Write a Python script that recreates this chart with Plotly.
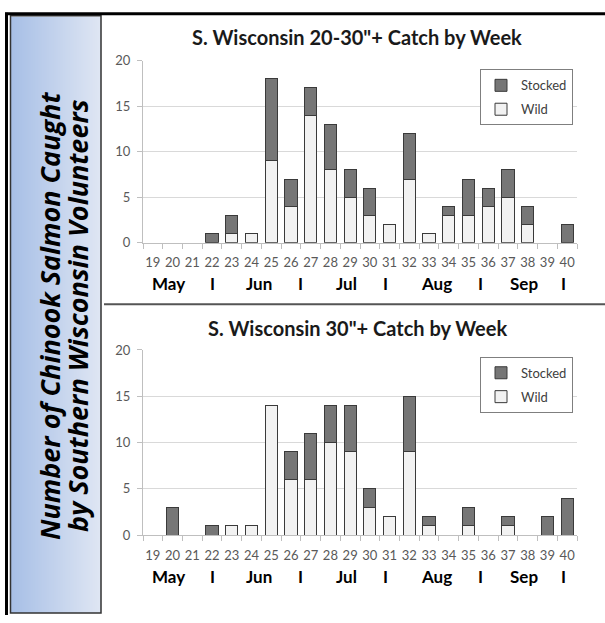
import plotly.graph_objects as go

W, H = 605, 623

weeks = list(range(19, 41))
week_labels = [str(w) for w in weeks]

# Chart 1: S. Wisconsin 20-30"+
wild_1 =    [0, 0, 0, 0, 1, 1, 9, 4, 14, 8, 5, 3, 2, 7, 1, 3, 3, 4, 5, 2, 0, 0]
stocked_1 = [0, 0, 0, 1, 2, 0, 9, 3, 3, 5, 3, 3, 0, 5, 0, 1, 4, 2, 3, 2, 0, 2]

# Chart 2: S. Wisconsin 30"+
wild_2 =    [0, 0, 0, 0, 1, 1, 14, 6, 6, 10, 9, 3, 2, 9, 1, 0, 1, 0, 1, 0, 0, 0]
stocked_2 = [0, 3, 0, 1, 0, 0, 0, 3, 5, 4, 5, 2, 0, 6, 1, 0, 2, 0, 1, 0, 2, 4]

title_1 = 'S. Wisconsin 20-30"+ Catch by Week'
title_2 = 'S. Wisconsin 30"+ Catch by Week'
month_labels = ["May", "I", "Jun", "I", "Jul", "I", "Aug", "I", "Sep", "I"]
month_pos = [19.8, 22, 24.4, 26.5, 28.8, 30.8, 33.4, 35.6, 37.8, 39.8]
side_title = ["Number of Chinook Salmon Caught", "by Southern Wisconsin Volunteers"]

FONT = "Lato"
WILD_FILL = "#f2f2f2"
STOCK_FILL = "#767676"
OUTLINE = "#3a3a3a"


def px_x(p):
    return p / W


def px_y(p):
    return 1 - p / H


def nz(vals):
    # zero-height bars are not drawn in the original
    return [v if v else None for v in vals]


fig = go.Figure()

for (wild, stocked, xa, ya, leg) in [
    (wild_1, stocked_1, "x", "y", "legend"),
    (wild_2, stocked_2, "x2", "y2", "legend2"),
]:
    fig.add_trace(go.Bar(x=weeks, y=nz(wild), name="Wild", xaxis=xa, yaxis=ya,
                         marker=dict(color=WILD_FILL, line=dict(color=OUTLINE, width=1)),
                         legend=leg, legendgroup="w", legendrank=2))
    fig.add_trace(go.Bar(x=weeks, y=nz(stocked), name="Stocked", xaxis=xa, yaxis=ya,
                         marker=dict(color=STOCK_FILL, line=dict(color=OUTLINE, width=1)),
                         legend=leg, legendgroup="s", legendrank=1))

xcommon = dict(
    range=[18.5, 40.5], tickmode="array", tickvals=weeks, ticktext=week_labels,
    ticks="", showgrid=False, showline=True, linecolor="#bfbfbf", linewidth=1,
    tickfont=dict(family=FONT, size=13, color="#595959"), ticklabelstandoff=8,
    minor=dict(tick0=18.5, dtick=1, ticks="outside", ticklen=5, tickcolor="#bfbfbf", showgrid=False),
    zeroline=False, fixedrange=True,
)
ycommon = dict(
    range=[0, 20], dtick=5, showgrid=True, gridcolor="#d9d9d9", gridwidth=1,
    showline=True, linecolor="#bfbfbf", linewidth=1, ticks="outside", ticklen=5,
    tickcolor="#bfbfbf", tickfont=dict(family=FONT, size=13, color="#595959"),
    zeroline=False, ticklabelstandoff=4,
)

legcommon = dict(
    orientation="v", traceorder="grouped", bgcolor="white", bordercolor="#7f7f7f",
    borderwidth=1, font=dict(family=FONT, size=13, color="#404040"),
    xanchor="right", yanchor="top", itemwidth=30, tracegroupgap=4,
)

fig.update_layout(
    width=W, height=H, autosize=False,
    margin=dict(l=0, r=0, t=0, b=0),
    paper_bgcolor="white", plot_bgcolor="white",
    barmode="stack", bargap=0.38,
    showlegend=True,
    xaxis=dict(domain=[px_x(143), px_x(577)], anchor="y", **xcommon),
    yaxis=dict(domain=[px_y(241), px_y(54)], anchor="x", **ycommon),
    xaxis2=dict(domain=[px_x(143), px_x(577)], anchor="y2", **xcommon),
    yaxis2=dict(domain=[px_y(541), px_y(351)], anchor="x2", **ycommon),
    legend=dict(x=px_x(573), y=px_y(63), **legcommon),
    legend2=dict(x=px_x(573), y=px_y(358), **legcommon),
)

shapes = []
# blue gradient side panel
x0, x1 = 11, 101
c0 = (167, 191, 230)
c1 = (223, 230, 243)
n = x1 - x0
for i in range(n):
    t = i / max(n - 1, 1)
    col = "rgb(%d,%d,%d)" % tuple(round(a + (b - a) * t) for a, b in zip(c0, c1))
    shapes.append(dict(type="rect", xref="paper", yref="paper",
                       x0=px_x(x0 + i), x1=px_x(x0 + i + 1.2), y0=px_y(621), y1=px_y(9),
                       fillcolor=col, line=dict(width=0), layer="below"))
shapes.append(dict(type="rect", xref="paper", yref="paper",
                   x0=px_x(10.5), x1=px_x(101), y0=px_y(621), y1=px_y(8),
                   fillcolor="rgba(0,0,0,0)", line=dict(color="#333333", width=1.5)))
# outer frame lines
shapes.append(dict(type="line", xref="paper", yref="paper",
                   x0=px_x(6.5), x1=px_x(6.5), y0=px_y(5), y1=px_y(623),
                   line=dict(color="black", width=3)))
shapes.append(dict(type="line", xref="paper", yref="paper",
                   x0=px_x(5), x1=px_x(605), y0=px_y(6), y1=px_y(6),
                   line=dict(color="black", width=3)))
# separator between charts
shapes.append(dict(type="line", xref="paper", yref="paper",
                   x0=px_x(104), x1=px_x(605), y0=px_y(304), y1=px_y(304),
                   line=dict(color="#555555", width=2)))
fig.update_layout(shapes=shapes)

ann = []
for title, ty in [(title_1, 30), (title_2, 328)]:
    ann.append(dict(text=title, x=px_x(357), y=px_y(ty), xref="paper", yref="paper",
                    showarrow=False, xanchor="center", yanchor="middle",
                    font=dict(family=FONT, size=20, color="#1a1a1a", weight="bold")))
for xa, my in [("x", 283), ("x2", 583)]:
    for lab, pos in zip(month_labels, month_pos):
        ann.append(dict(text=lab, x=pos, y=px_y(my), xref=xa, yref="paper",
                        showarrow=False, xanchor="center", yanchor="middle",
                        font=dict(family=FONT, size=17, color="black", weight="bold")))
for line, lx in zip(side_title, [50, 78]):
    ann.append(dict(text="<i><b>%s</b></i>" % line, x=px_x(lx), y=px_y(316),
                    xref="paper", yref="paper", showarrow=False, textangle=-90,
                    xanchor="center", yanchor="middle",
                    font=dict(family="Open Sans", size=27, color="black")))
fig.update_layout(annotations=ann)

fig.write_html("out.html", config={"displayModeBar": False},
               post_script="document.body.style.margin='0';document.body.style.padding='0';"
                           "document.documentElement.style.overflow='hidden';")
